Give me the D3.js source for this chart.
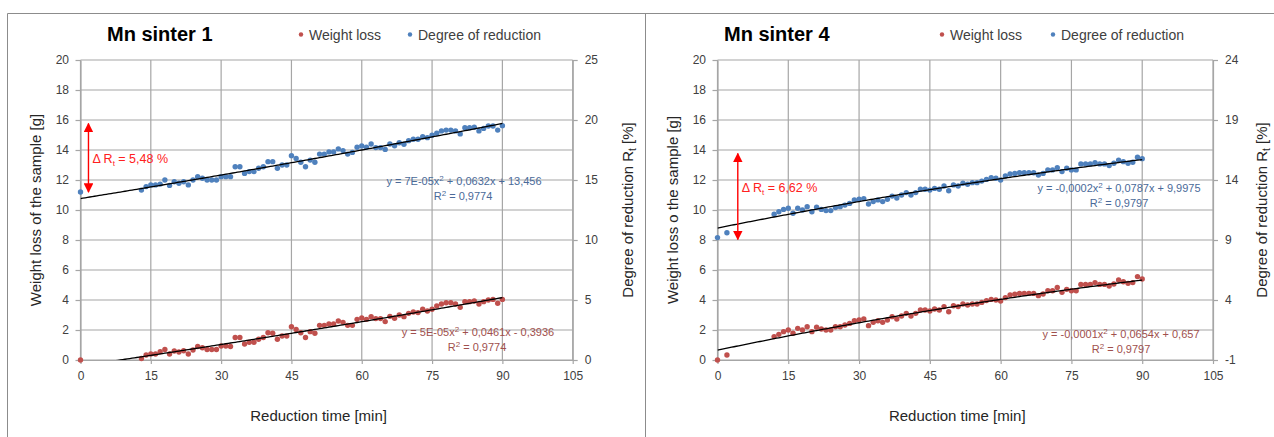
<!DOCTYPE html>
<html>
<head>
<meta charset="utf-8">
<script src="https://cdn.jsdelivr.net/npm/d3@7"></script>
<style>
  body { margin: 0; background: #fff; }
  svg { display: block; font-family: "Liberation Sans", Arial, sans-serif; }
</style>
</head>
<body>
<svg id="chart" width="1274" height="437"></svg>
<script>
// ---- data ----
// Mn sinter 1 : time [min], weight loss [g] (left axis), degree of reduction [%] (right axis)
const timeL = [0,13,14,15,16,17,18,19,20,21,22,23,24,25,26,27,28,29,30,31,32,33,34,35,36,37,38,39,40,
  41,42,43,44,45,46,47,48,49,50,51,52,53,54,55,56,57,58,59,60,61,62,63,64,65,66,67,68,69,70,
  71,72,73,74,75,76,77,78,79,80,81,82,83,84,85,86,87,88,89,90];
const weightL = [0,0.10,0.33,0.40,0.40,0.55,0.70,0.40,0.60,0.53,0.62,0.40,0.67,0.90,0.82,0.70,0.70,0.70,0.93,0.93,
  0.90,1.50,1.50,1.07,1.18,1.18,1.38,1.50,1.82,1.78,1.38,1.60,1.60,2.22,2.04,1.82,1.50,1.89,1.78,2.31,
  2.31,2.40,2.40,2.60,2.51,2.31,2.31,2.71,2.80,2.71,2.89,2.76,2.76,2.56,2.91,2.78,3.00,2.89,3.11,3.20,
  3.16,3.38,3.27,3.38,3.60,3.73,3.82,3.82,3.73,3.51,3.89,3.89,3.93,3.73,3.89,4.00,4.04,3.78,4.04];
const degreeL = [14.0,14.16,14.45,14.59,14.59,14.66,15.0,14.55,14.86,14.73,14.86,14.59,15.0,15.28,15.14,15.0,15.0,15.0,
  15.28,15.28,15.28,16.11,16.11,15.55,15.7,15.7,15.98,16.11,16.53,16.53,15.98,16.25,16.25,17.03,16.8,16.48,
  16.11,16.66,16.48,17.16,17.16,17.34,17.34,17.59,17.45,17.16,17.3,17.73,17.84,17.73,18.0,17.7,17.7,17.55,
  18.0,17.86,18.11,17.98,18.28,18.39,18.39,18.61,18.53,18.73,18.89,19.09,19.16,19.16,19.09,18.84,19.36,19.36,
  19.39,19.09,19.3,19.5,19.5,19.16,19.53];

// Mn sinter 4
const timeR = [0,2,12,13,14,15,16,17,18,19,20,21,22,23,24,25,26,27,28,29,30,31,32,33,34,35,36,37,38,39,40,
  41,42,43,44,45,46,47,48,49,50,51,52,53,54,55,56,57,58,59,60,61,62,63,64,65,66,67,68,69,70,
  71,72,73,74,75,76,77,78,79,80,81,82,83,84,85,86,87,88,89,90];
const weightR = [0,0.33,1.56,1.71,1.89,2.0,1.78,2.11,2.0,2.22,1.89,2.18,2.07,2.0,2.0,2.22,2.22,2.33,2.44,2.62,2.67,
  2.73,2.29,2.51,2.62,2.51,2.67,2.89,2.73,2.93,3.11,2.93,3.11,3.33,3.33,3.27,3.4,3.33,3.56,3.22,3.62,
  3.56,3.73,3.67,3.73,3.73,3.84,3.96,4.04,4.0,3.93,4.16,4.33,4.38,4.44,4.44,4.44,4.44,4.29,4.4,4.62,
  4.62,4.84,4.51,4.71,4.62,4.62,5.04,5.04,5.04,5.16,5.04,5.04,4.93,5.07,5.33,5.22,5.11,5.16,5.56,5.4];
const degreeR = [9.2,9.61,11.14,11.36,11.55,11.64,11.23,11.64,11.5,11.78,11.36,11.73,11.55,11.45,11.45,11.7,11.78,
  11.91,12.05,12.34,12.39,12.45,12.0,12.2,12.34,12.2,12.39,12.66,12.5,12.75,12.95,12.75,12.95,13.23,13.23,
  13.16,13.3,13.23,13.5,13.11,13.59,13.5,13.73,13.64,13.78,13.78,13.91,14.05,14.2,14.14,14.0,14.34,14.5,
  14.55,14.61,14.61,14.61,14.61,14.41,14.55,14.84,14.84,15.03,14.7,14.98,14.84,14.84,15.34,15.34,15.34,
  15.45,15.34,15.34,15.2,15.39,15.66,15.53,15.39,15.48,15.89,15.78];

// polynomial trendlines [a, b, c] : a*x^2 + b*x + c
const trendWeightL = [5e-5, 0.0461, -0.3936];
const trendDegreeL = [7e-5, 0.0632, 13.456];
const trendWeightR = [-0.00015, 0.0654, 0.657];
const trendDegreeR = [-0.00017, 0.0787, 9.9975];

// ticks
const xTicks = [0, 15, 30, 45, 60, 75, 90, 105];
const leftTicks = [0, 2, 4, 6, 8, 10, 12, 14, 16, 18, 20];
const rightTicksL = [0, 5, 10, 15, 20, 25];
const rightTicksR = [-1, 4, 9, 14, 19, 24];

// delta annotations [time, from %, to %]
const deltaL = [1.7, 14.0, 19.7];
const deltaR = [4.3, 9.05, 16.2];

const RED = "#c0504d", BLUE = "#4f81bd", GRID = "#a6a6a6", TXT = "#404040";

const svg = d3.select("#chart");

svg.append("defs").html(
  '<marker id="ah" viewBox="0 0 10 10" refX="9" refY="5" markerWidth="7" markerHeight="7" orient="auto-start-reverse">' +
  '<path d="M0,0 L10,5 L0,10 z" fill="#ff0000"/></marker>');

// panel frames
svg.append("path")
  .attr("d", "M7.5,437 V13.5 H1274 M645.5,13.5 V437")
  .attr("fill", "none").attr("stroke", "#8c8c8c").attr("stroke-width", 1);

function poly(c) { return x => c[0] * x * x + c[1] * x + c[2]; }

function drawPanel(p, idx) {
  const x = d3.scaleLinear().domain([0, 105]).range([p.left, p.right]);
  const yL = d3.scaleLinear().domain([0, 20]).range([360, 60]);
  const yR = d3.scaleLinear().domain(p.rightDomain).range([360, 60]);
  const g = svg.append("g");

  // grid
  g.selectAll(".vg").data(xTicks).join("line")
    .attr("x1", d => x(d)).attr("x2", d => x(d)).attr("y1", 60).attr("y2", 360)
    .attr("stroke", GRID).attr("stroke-width", 1.2);
  g.selectAll(".hg").data(leftTicks).join("line")
    .attr("x1", p.left).attr("x2", p.right).attr("y1", d => yL(d)).attr("y2", d => yL(d))
    .attr("stroke", GRID).attr("stroke-width", 1.2);

  // axes
  const styleAxis = sel => {
    sel.select(".domain").attr("stroke", GRID).attr("stroke-width", 1.2);
    sel.selectAll(".tick line").attr("stroke", GRID).attr("stroke-width", 1.2);
    sel.selectAll("text").attr("fill", TXT).attr("font-size", 12)
      .attr("font-family", '"Liberation Sans", Arial, sans-serif');
  };
  const fmt = d => String(d);
  g.append("g").attr("transform", `translate(${p.left},0)`)
    .call(d3.axisLeft(yL).tickValues(leftTicks).tickFormat(fmt).tickSize(5).tickSizeOuter(0).tickPadding(6.5))
    .call(styleAxis);
  g.append("g").attr("transform", `translate(${p.right},0)`)
    .call(d3.axisRight(yR).tickValues(p.rightTicks).tickFormat(fmt).tickSize(5).tickSizeOuter(0).tickPadding(7))
    .call(styleAxis);
  g.append("g").attr("transform", "translate(0,360)")
    .call(d3.axisBottom(x).tickValues(xTicks).tickFormat(fmt).tickSize(4).tickSizeOuter(0).tickPadding(7.5))
    .call(styleAxis);

  // clip for trendlines
  svg.select("defs").append("clipPath").attr("id", "clip" + idx)
    .append("rect").attr("x", p.left).attr("y", 60).attr("width", p.right - p.left).attr("height", 300);

  // points
  const wPts = p.time.map((t, i) => [t, p.weight[i]]);
  const dPts = p.time.map((t, i) => [t, p.degree[i]]);
  g.selectAll(".pw").data(wPts).join("circle")
    .attr("cx", d => x(d[0])).attr("cy", d => yL(d[1])).attr("r", 2.7).attr("fill", RED);
  g.selectAll(".pd").data(dPts).join("circle")
    .attr("cx", d => x(d[0])).attr("cy", d => yR(d[1])).attr("r", 2.7).attr("fill", BLUE);

  // trendlines
  const xs = d3.range(0, 90.01, 0.5);
  const lineL = d3.line().x(d => x(d)).y(d => yL(poly(p.trendW)(d)));
  const lineR = d3.line().x(d => x(d)).y(d => yR(poly(p.trendD)(d)));
  g.append("path").datum(xs).attr("d", lineL).attr("clip-path", `url(#clip${idx})`)
    .attr("fill", "none").attr("stroke", "#000").attr("stroke-width", 1.3);
  g.append("path").datum(xs).attr("d", lineR).attr("clip-path", `url(#clip${idx})`)
    .attr("fill", "none").attr("stroke", "#000").attr("stroke-width", 1.3);

  // trend equations
  const eq = (txt, xx, yy, col) => {
    const t = g.append("text").attr("x", xx).attr("y", yy).attr("text-anchor", "middle")
      .attr("font-size", 11).attr("fill", col);
    txt.forEach(s => {
      if (s.sup) t.append("tspan").attr("font-size", 8).attr("dy", -4).text(s.sup);
      else t.append("tspan").attr("dy", s.down ? 4 : 0).text(s.t);
    });
  };
  eq(p.eqD, p.eqDx, p.eqDy, "#4a6a99");
  eq([{t: "R"}, {sup: "2"}, {t: " = " + p.r2, down: true}], p.r2Dx, p.eqDy + 15, "#4a6a99");
  eq(p.eqW, p.eqWx, p.eqWy, "#a0504d");
  eq([{t: "R"}, {sup: "2"}, {t: " = " + p.r2, down: true}], p.r2Wx, p.eqWy + 15, "#a0504d");

  // delta arrow
  g.append("line")
    .attr("x1", x(p.delta[0])).attr("x2", x(p.delta[0]))
    .attr("y1", yR(p.delta[1])).attr("y2", yR(p.delta[2]))
    .attr("stroke", "#ff0000").attr("stroke-width", 1.4)
    .attr("marker-start", "url(#ah)").attr("marker-end", "url(#ah)");
  const dt = g.append("text").attr("x", x(p.delta[0]) + 4).attr("y", p.deltaY)
    .attr("font-size", 12.5).attr("fill", "#ff2020");
  dt.append("tspan").text("\u0394 R");
  dt.append("tspan").attr("font-size", 8).attr("dy", 3).text("t");
  dt.append("tspan").attr("dy", -3).text(" = " + p.deltaText);

  // title
  g.append("text").attr("x", p.titleX).attr("y", 41).attr("font-size", 20).attr("font-weight", "bold")
    .attr("fill", "#000").text(p.title);

  // legend
  [[p.legX1, RED, "Weight loss"], [p.legX2, BLUE, "Degree of reduction"]].forEach(l => {
    g.append("circle").attr("cx", l[0]).attr("cy", 34.5).attr("r", 2.2).attr("fill", l[1]);
    g.append("text").attr("x", l[0] + 8).attr("y", 39.5).attr("font-size", 14).attr("fill", TXT).text(l[2]);
  });

  // axis labels
  g.append("text").attr("x", (p.left + p.right) / 2 - 8).attr("y", 421).attr("text-anchor", "middle")
    .attr("font-size", 15).attr("fill", "#262626").text("Reduction time [min]");
  g.append("text").attr("transform", `translate(${p.left - 40},210) rotate(-90)`)
    .attr("text-anchor", "middle").attr("font-size", 15).attr("fill", "#262626").text(p.yLabel);
  const rl = g.append("text").attr("transform", `translate(${p.right + p.rOff},210) rotate(-90)`)
    .attr("text-anchor", "middle").attr("font-size", 15).attr("fill", "#262626");
  rl.append("tspan").text("Degree of reduction R");
  rl.append("tspan").attr("font-size", 10).attr("dy", 3).text("t");
  rl.append("tspan").attr("dy", -3).text(" [%]");
}

drawPanel({
  left: 80.5, right: 572.7, rightDomain: [0, 25], rightTicks: rightTicksL, rOff: 60,
  time: timeL, weight: weightL, degree: degreeL, trendW: trendWeightL, trendD: trendDegreeL,
  eqD: [{t: "y = 7E-05x"}, {sup: "2"}, {t: " + 0,0632x + 13,456", down: true}], eqDx: 464, eqDy: 185, r2Dx: 463,
  eqW: [{t: "y = 5E-05x"}, {sup: "2"}, {t: " + 0,0461x - 0,3936", down: true}], eqWx: 478, eqWy: 336, r2Wx: 477,
  r2: "0,9774", delta: deltaL, deltaY: 163, deltaText: "5,48 %",
  title: "Mn sinter 1", titleX: 107, legX1: 301, legX2: 410,
  yLabel: "Weight loss of the sample [g]"
}, 0);

drawPanel({
  left: 717.5, right: 1213, rightDomain: [-1, 24], rightTicks: rightTicksR, rOff: 54,
  time: timeR, weight: weightR, degree: degreeR, trendW: trendWeightR, trendD: trendDegreeR,
  eqD: [{t: "y = -0,0002x"}, {sup: "2"}, {t: " + 0,0787x + 9,9975", down: true}], eqDx: 1119, eqDy: 192, r2Dx: 1119,
  eqW: [{t: "y = -0,0001x"}, {sup: "2"}, {t: " + 0,0654x + 0,657", down: true}], eqWx: 1121, eqWy: 338, r2Wx: 1121,
  r2: "0,9797", delta: deltaR, deltaY: 192, deltaText: "6,62 %",
  title: "Mn sinter 4", titleX: 724, legX1: 942, legX2: 1053,
  yLabel: "Weight loss o the sample  [g]"
}, 1);
</script>
</body>
</html>
